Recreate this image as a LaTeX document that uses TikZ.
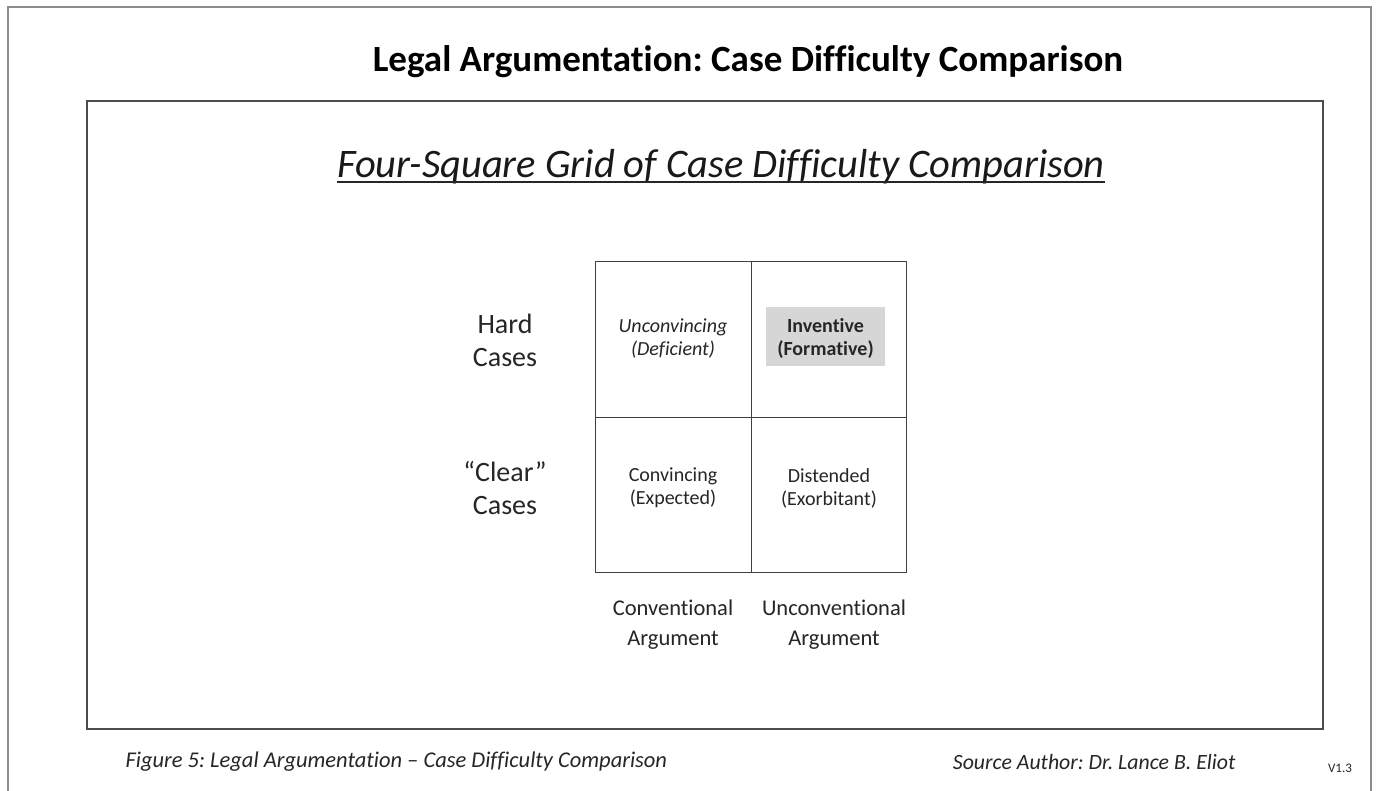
\documentclass[tikz,border=0pt]{standalone}
\usepackage{fontspec}
\setmainfont[Ligatures={NoCommon}]{Carlito}
\frenchspacing
\begin{document}
\begin{tikzpicture}[x=1pt,y=-1pt,
  gridline/.style={draw=black!75,line width=0.9pt},
  celltext/.style={align=center,text=black!85},
  rowlab/.style={font=\fontsize{28}{33}\selectfont,align=center,text=black!85},
  collab/.style={font=\fontsize{22.5}{30}\selectfont,align=center,text=black!85},
  foot/.style={font=\fontsize{22.5}{26}\selectfont\itshape,text=black!85}]
\useasboundingbox (0,0) rectangle (1379,791);
\fill[white] (0,0) rectangle (1379,791);
% outer frame (bottom cut off)
\draw[draw=black!45,line width=1.5pt] (8,795) -- (8,7) -- (1371,7) -- (1371,795);
% inner frame
\draw[draw=black!70,line width=1.2pt] (87,101) rectangle (1323,729);
% title
\node[font=\fontsize{37}{42}\selectfont\bfseries] (title) at (748,62) {Legal Argumentation: Case Difficulty Comparison};
\node[font=\fontsize{40.5}{46}\selectfont\itshape,text=black!90,inner sep=0pt,anchor=base] (sub) at (721,178) {Four-Square Grid of Case Difficulty Comparison};
\draw[black!85,line width=2pt] ([yshift=-4.5pt]sub.base west) -- ([yshift=-4.5pt]sub.base east);
% grid
\draw[gridline] (595,261) rectangle (906,572);
\draw[gridline] (751,261) -- (751,572);
\draw[gridline] (595,417) -- (906,417);
% cells
\node[celltext,font=\fontsize{20}{23}\selectfont\itshape] (c11) at (673,338) {Unconvincing\\(Deficient)};
\node[fill=black!16,minimum width=119pt,minimum height=59pt,inner sep=0pt] (c12bg) at (825.5,336.5) {};
\node[celltext,font=\fontsize{20}{23}\selectfont\bfseries] (c12) at (825.5,338) {Inventive\\(Formative)};
\node[celltext,font=\fontsize{20}{23}\selectfont] (c21) at (673,488) {Convincing\\(Expected)};
\node[celltext,font=\fontsize{20}{23}\selectfont] (c22) at (829,488) {Distended\\(Exorbitant)};
% row labels
\node[rowlab] (r1) at (505,340) {Hard\\Cases};
\node[rowlab] (r2) at (505,488) {“Clear”\\Cases};
% column labels
\node[collab] (k1) at (673,625) {Conventional\\Argument};
\node[collab] (k2) at (834,625) {Unconventional\\Argument};
% footer
\node[foot,anchor=west] (f1) at (122,762) {Figure 5: Legal Argumentation – Case Difficulty Comparison};
\node[foot,anchor=east,font=\fontsize{21.8}{26}\selectfont\itshape] (f2) at (1239,762) {Source Author: Dr. Lance B. Eliot};
\node[font=\fontsize{13}{15}\selectfont,text=black!85] (ver) at (1340,768) {V1.3};
\end{tikzpicture}
\end{document}
